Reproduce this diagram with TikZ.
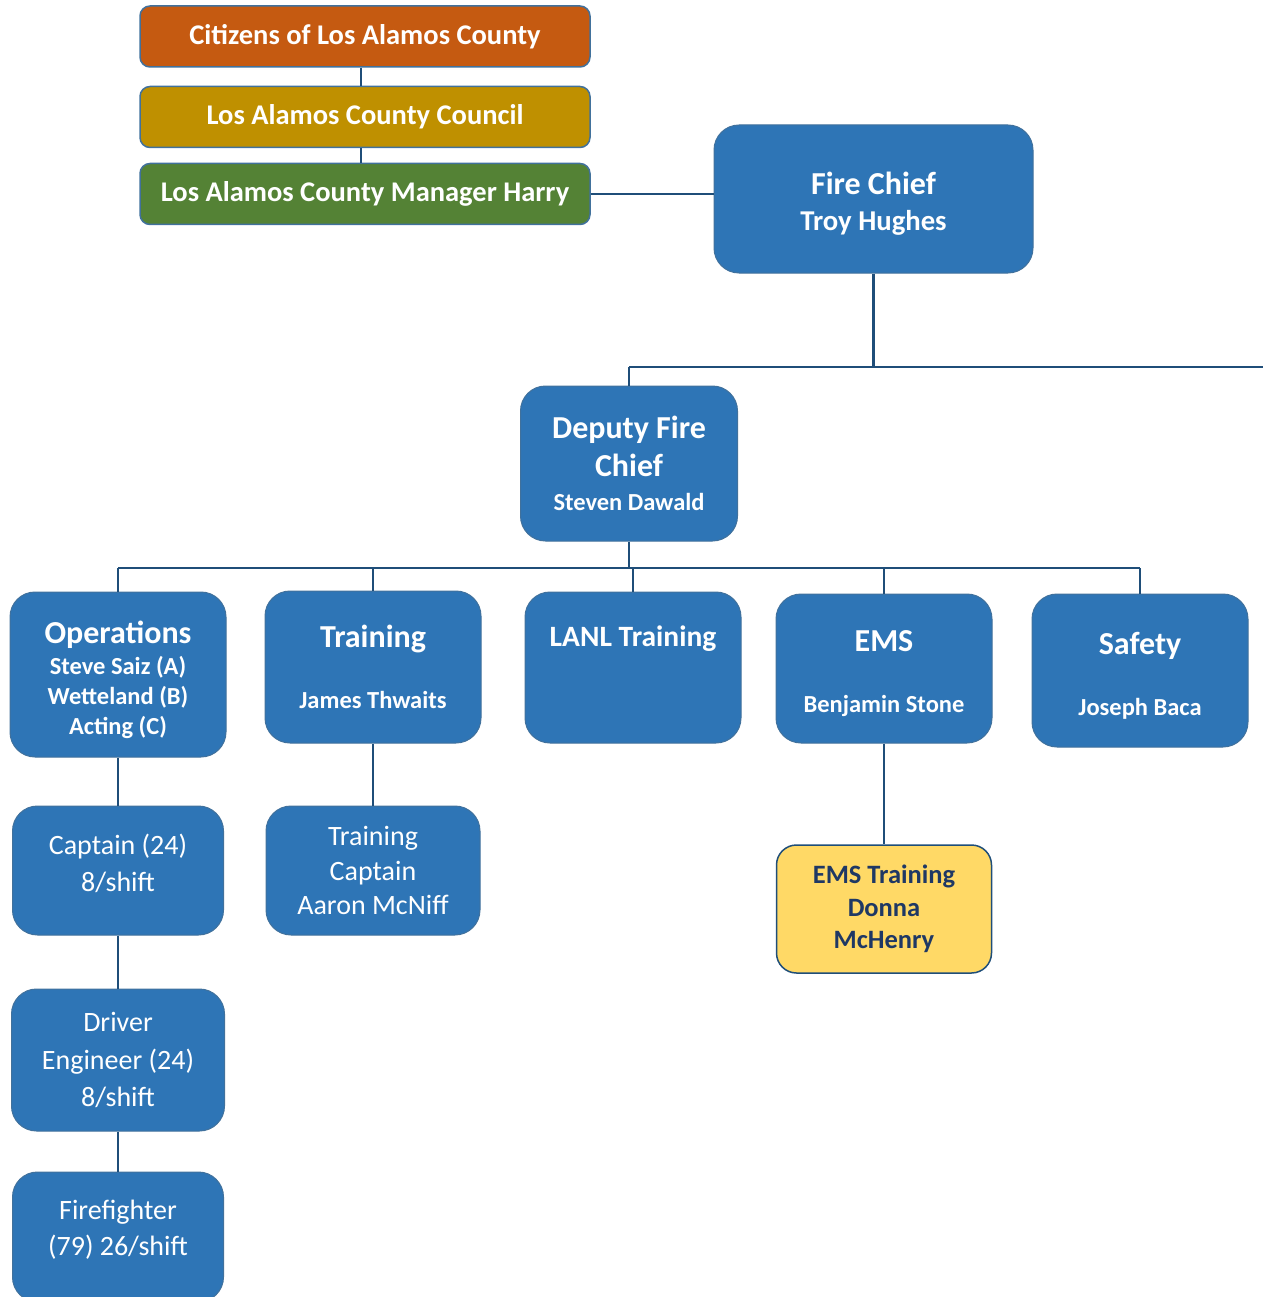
\documentclass[tikz,border=0pt]{standalone}
\usepackage{fontspec}
\setmainfont{Carlito}

\definecolor{citizensOrange}{HTML}{C55A11}
\definecolor{councilGold}{HTML}{BF9000}
\definecolor{managerGreen}{HTML}{548235}
\definecolor{deptBlue}{HTML}{2E75B6}
\definecolor{boxEdge}{HTML}{41719C}
\definecolor{linkBlue}{HTML}{1F4E79}
\definecolor{emsYellow}{HTML}{FFD966}
\definecolor{emsText}{HTML}{1F3864}

\newcommand{\headFont}{\bfseries\fontsize{32}{38}\selectfont}
\newcommand{\nameFont}{\bfseries\fontsize{24.5}{30}\selectfont}

\begin{document}
\begin{tikzpicture}[x=1pt, y=-1pt,
  govBox/.style={rectangle, rounded corners=10pt, draw=boxEdge, line width=1.5pt, text=white,
    font=\bfseries\fontsize{28.5}{34}\selectfont, minimum width=450pt, minimum height=61pt, inner sep=0pt},
  deptBox/.style={rectangle, rounded corners=25pt, fill=deptBlue, draw=boxEdge, line width=1pt,
    text=white, align=center, inner sep=0pt, minimum width=216pt},
  link/.style={draw=linkBlue, line width=2.5pt}]
\useasboundingbox (0,0) rectangle (1263,1297);
\clip (0,0) rectangle (1263,1297);
%%%%%%%%%%%%%%%%%%%%%%%%%%%%%%% County government
\node[govBox, fill=citizensOrange](citizens) at (365,36.5){Citizens of Los Alamos County};
\node[govBox, fill=councilGold](council) at (365,117){Los Alamos County Council};
\node[govBox, fill=managerGreen](manager) at (365,194){Los Alamos County Manager Harry};
\draw[link] ([xshift=-4pt]citizens.south) -- ([xshift=-4pt]council.north);
\draw[link] ([xshift=-4pt]council.south) -- ([xshift=-4pt]manager.north);

%%%%%%%%%%%%%%%%%%%%%%%%%%%%%%% Chiefs
\node[deptBox, minimum width=319pt, minimum height=148pt, font=\bfseries\fontsize{28.7}{38}\selectfont](fireChief) at (873.5,199){\mbox{}\\[-6pt]{\headFont Fire Chief}\\[-2pt]Troy Hughes};
\draw[link] (manager.east) -- (manager.east -| fireChief.west);

\coordinate (topBus) at (629,367);
\coordinate (topBusEnd) at (1263,367);
\draw[link] (fireChief.south) -- (fireChief.south |- topBus);
\draw[link] (topBus) -- (topBusEnd);

\node[deptBox, minimum width=217pt, minimum height=155pt, font=\headFont](deputy) at (629,463.5){Deputy Fire\\Chief\\[-4pt]{\nameFont Steven Dawald}};
\draw[link] (topBus) -- (deputy.north);

%%%%%%%%%%%%%%%%%%%%%%%%%%%%%%% Divisions
\node[deptBox, minimum height=165pt, font=\nameFont](ops) at (118,674.5){\mbox{}\\[3pt]{\headFont Operations}\\[1pt]Steve Saiz (A)\\Wetteland (B)\\Acting (C)};
\node[deptBox, minimum height=152pt, font=\nameFont](training) at (373,667){{\headFont Training}\\[31pt]James Thwaits};
\node[deptBox, minimum height=151pt, font=\bfseries\fontsize{29.5}{35}\selectfont](lanl) at (633,667.5){LANL Training\\[27pt]\mbox{}};
\node[deptBox, minimum height=149pt, font=\nameFont](ems) at (884,668.5){\mbox{}\\[2pt]{\headFont EMS}\\[31pt]Benjamin Stone};
\node[deptBox, minimum height=153pt, font=\nameFont](safety) at (1140,670.5){\mbox{}\\[2pt]{\headFont Safety}\\[31pt]Joseph Baca};

\coordinate (lowBus) at (629,568);
\draw[link] (deputy.south) -- (lowBus);
\draw[link] (ops.north |- lowBus) -- (safety.north |- lowBus);
\foreach \n in {ops,training,lanl,ems,safety}
  \draw[link] (\n.north |- lowBus) -- (\n.north);

%%%%%%%%%%%%%%%%%%%%%%%%%%%%%%% Ranks
\node[deptBox, minimum width=211pt, minimum height=129pt, font=\fontsize{28}{37}\selectfont](captain) at (118,870.5){Captain (24)\\8/shift\\[-21pt]\mbox{}};
\node[deptBox, minimum width=213pt, minimum height=142pt, font=\fontsize{28}{37.5}\selectfont](driver) at (118,1060){Driver\\Engineer (24)\\8/shift};
\node[deptBox, minimum width=211pt, minimum height=130pt, font=\fontsize{28}{36}\selectfont](firefighter) at (118,1237){Firefighter\\(79) 26/shift\\[-18pt]\mbox{}};
\draw[link] (ops) -- (captain);
\draw[link] (captain) -- (driver);
\draw[link] (driver) -- (firefighter);

\node[deptBox, minimum width=214pt, minimum height=129pt, font=\fontsize{28}{34.5}\selectfont](trainCaptain) at (373,870.5){Training\\Captain\\Aaron McNiff};
\draw[link] (training) -- (trainCaptain);

\node[deptBox, rounded corners=20pt, fill=emsYellow, draw=linkBlue, line width=1.5pt, text=emsText,
  minimum width=215pt, minimum height=128pt, font=\bfseries\fontsize{26.5}{32.5}\selectfont](emsTraining) at (884,909){EMS Training\\Donna\\McHenry};
\draw[link] (ems) -- (emsTraining);

\end{tikzpicture}
\end{document}
